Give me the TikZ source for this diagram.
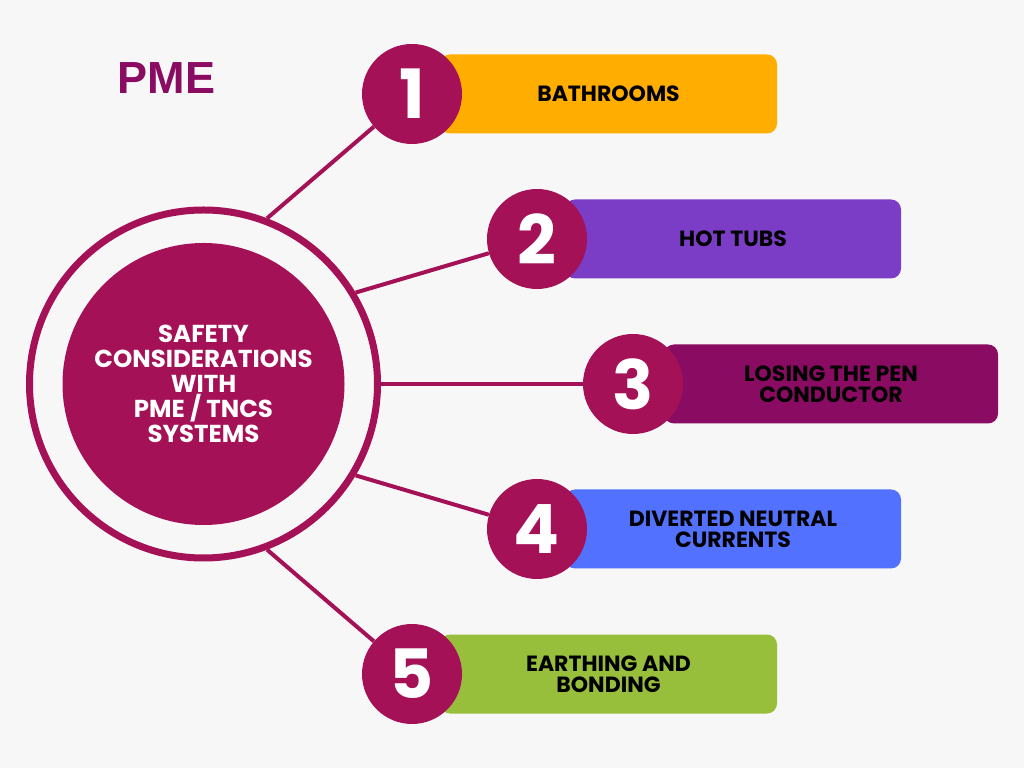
\documentclass[tikz,border=0pt]{standalone}
\usepackage{fontspec}
\setmainfont{Poppins}
\newfontfamily\titlefont{Liberation Sans}
\usepackage{xcolor}

\definecolor{bg}{HTML}{F7F7F7}
\definecolor{crim}{HTML}{A51156}
\definecolor{plum}{HTML}{8A0B62}
\definecolor{orng}{HTML}{FFAE00}
\definecolor{viol}{HTML}{7B3DC6}
\definecolor{azure}{HTML}{5271FF}
\definecolor{lime}{HTML}{97BF3B}

\tikzset{
    numcirc/.style={circle, fill=crim, text=white, minimum size=100pt, inner sep=0pt,
        font=\fontsize{68}{68}\selectfont\bfseries},
    bar/.style={rounded corners=10pt, minimum height=79pt, inner sep=0pt, align=center,
        font=\fontsize{22}{21}\selectfont\bfseries},
    spoke/.style={draw=crim, line width=4pt},
}

\begin{document}
\begin{tikzpicture}[x=1pt,y=1pt]
    \fill[bg] (0,0) rectangle (1024,768);
    \useasboundingbox (0,0) rectangle (1024,768);

    \node[text=plum, font=\titlefont\fontsize{45}{45}\selectfont\bfseries] (title) at (166.5,689.5) {PME};

    % bars
    \node[bar, fill=orng, minimum width=337pt] (bar1) at (608.5,674) {BATHROOMS};
    \node[bar, fill=viol, minimum width=336pt] (bar2) at (733,529) {HOT TUBS};
    \node[bar, fill=plum, minimum width=334pt] (bar3) at (831,384) {LOSING THE PEN\\CONDUCTOR};
    \node[bar, fill=azure, minimum width=336pt] (bar4) at (733,239) {DIVERTED NEUTRAL\\CURRENTS};
    \node[bar, fill=lime, minimum width=337pt] (bar5) at (608.5,94) {EARTHING AND\\BONDING};

    % numbers
    \node[numcirc] (n1) at (412,674) {1};
    \node[numcirc] (n2) at (537,529) {2};
    \node[numcirc] (n3) at (633,384) {3};
    \node[numcirc] (n4) at (537,239) {4};
    \node[numcirc] (n5) at (412,94) {5};

    % hub
    \node[circle, draw=crim, line width=7pt, minimum size=348pt, inner sep=0pt] (ring) at (203.5,384) {};
    \node[circle, fill=crim, minimum size=282pt, inner sep=0pt, text=white, align=center,
        font=\fontsize{24.5}{25}\selectfont\bfseries] (hub) at (203.5,384)
        {SAFETY\\CONSIDERATIONS\\WITH\\PME / TNCS\\SYSTEMS};

    \draw[spoke] (ring.69.8) -- (n1);
    \draw[spoke] (ring.31.5) -- (n2);
    \draw[spoke] (ring.0) -- (n3);
    \draw[spoke] (ring.-31.5) -- (n4);
    \draw[spoke] (ring.-69.8) -- (n5);
\end{tikzpicture}
\end{document}
